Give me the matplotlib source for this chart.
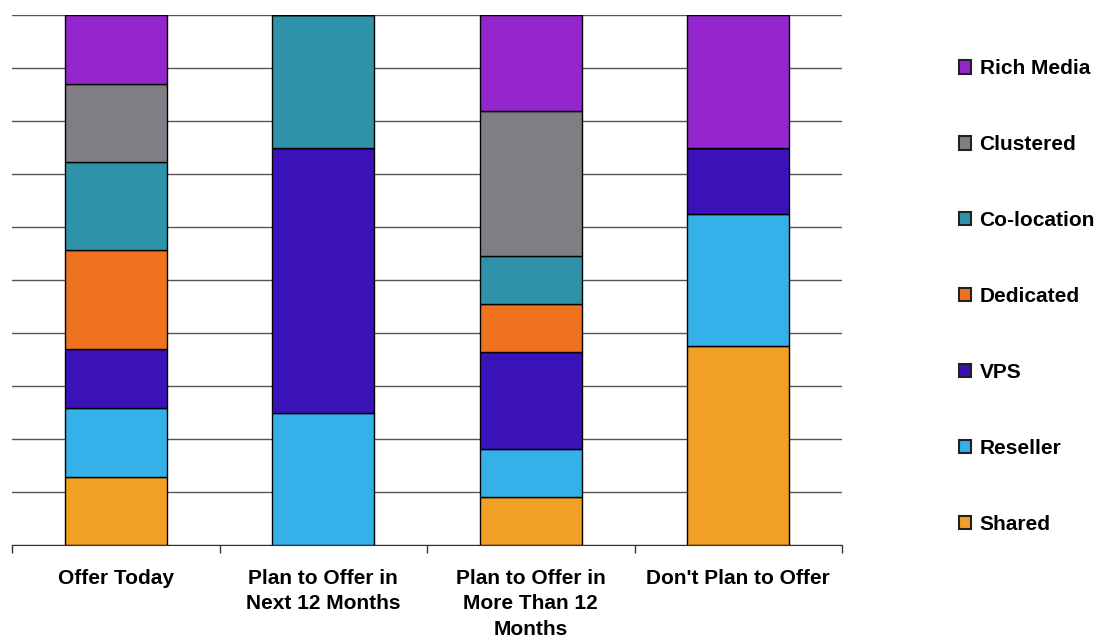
import numpy as np
import matplotlib.pyplot as plt
from matplotlib.patches import Patch

plt.rcParams["font.family"] = ["Liberation Sans", "DejaVu Sans"]

categories = [
    "Offer Today",
    "Plan to Offer in\nNext 12 Months",
    "Plan to Offer in\nMore Than 12\nMonths",
    "Don't Plan to Offer",
]
series = ["Shared", "Reseller", "VPS", "Dedicated", "Co-location", "Clustered", "Rich Media"]

# percentage share of each hosting type per category
shared = [12.8, 0.0, 9.09, 37.5]
reseller = [13.0, 25.0, 9.09, 25.0]
vps = [11.1, 50.0, 18.18, 12.5]
dedicated = [18.7, 0.0, 9.09, 0.0]
colocation = [16.6, 25.0, 9.09, 0.0]
clustered = [14.7, 0.0, 27.28, 0.0]
rich_media = [13.1, 0.0, 18.18, 25.0]

values = [shared, reseller, vps, dedicated, colocation, clustered, rich_media]
colors = ["#F0A024", "#33B1E8", "#3A12B8", "#EE7220", "#2E93A8", "#807D84", "#9525CC"]

fig = plt.figure(figsize=(10.97, 6.37), dpi=100)
ax = fig.add_axes([12 / 1097, 1 - 545 / 637, 830 / 1097, 530 / 637])

x = np.arange(len(categories))
bottom = np.zeros(len(categories))
for name, vals, col in zip(series, values, colors):
    vals = np.array(vals)
    ax.bar(x, vals, width=0.49, bottom=bottom, color=col, edgecolor="black",
           linewidth=1, label=name, zorder=3)
    bottom += vals

ax.set_xlim(-0.5, len(categories) - 0.5)
ax.set_ylim(0, 100)
ax.set_yticks(np.arange(0, 101, 10))
ax.yaxis.grid(True, color="#555555", linewidth=1, zorder=0)
ax.tick_params(axis="y", length=0, labelleft=False)

ax.set_xticks(np.arange(-0.5, len(categories), 1))
ax.set_xticklabels([])
ax.set_xticks(x, minor=True)
ax.set_xticklabels(categories, minor=True, fontsize=15, fontweight="bold", linespacing=1.45,
                   va="top")
ax.tick_params(axis="x", which="major", length=6, width=1, color="#333333", direction="out")
ax.tick_params(axis="x", which="minor", length=0, pad=17)

for side in ["left", "right", "top"]:
    ax.spines[side].set_visible(False)
ax.spines["bottom"].set_color("#333333")
ax.spines["bottom"].set_zorder(4)

handles = [Patch(facecolor=c, edgecolor="#222222", linewidth=1.5) for c in colors][::-1]
leg = fig.legend(handles, series[::-1], loc="center left",
                 bbox_to_anchor=(940 / 1097, 1 - 296.5 / 637), frameon=False,
                 prop={"size": 15, "weight": "bold"}, handlelength=0.6, handleheight=0.6,
                 handletextpad=0.4, labelspacing=2.73)

fig.savefig("out.png", dpi=100)
